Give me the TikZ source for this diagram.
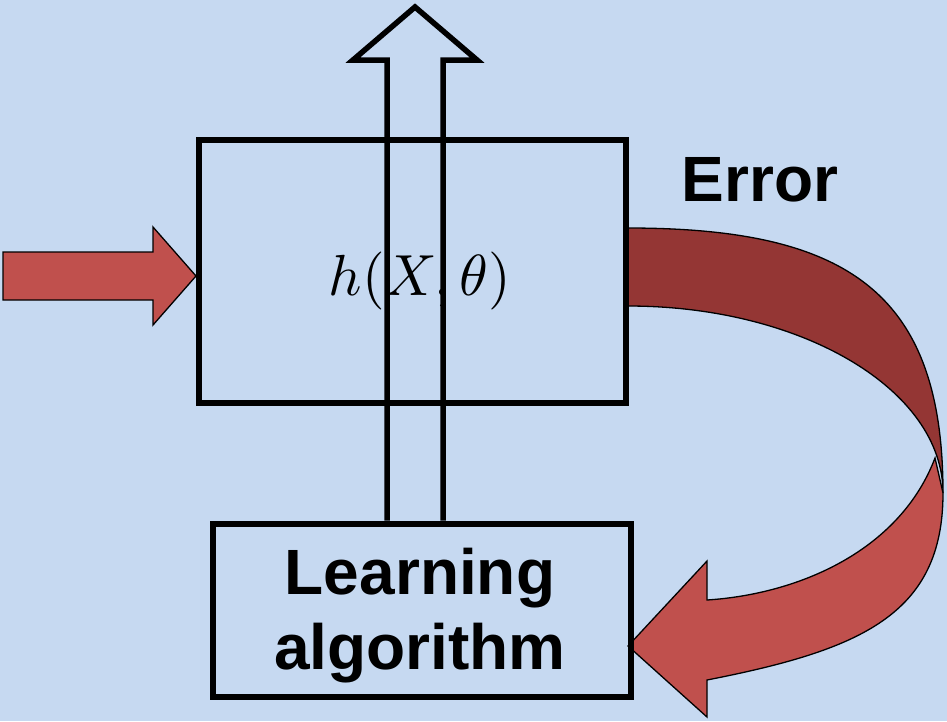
\documentclass[tikz,border=0pt]{standalone}
\usepackage{fontspec}
\newfontfamily\arialfont{Liberation Sans}
\definecolor{bgblue}{HTML}{C6D9F1}
\definecolor{lightred}{HTML}{C0504D}
\definecolor{darkred}{HTML}{943634}
\tikzset{
  blockbox/.style={draw=black, line width=6pt, fill=none, inner sep=0pt},
  bigtext/.style={font=\arialfont\bfseries\fontsize{64}{75}\selectfont, inner sep=0pt, align=center},
  redshape/.style={fill=lightred, draw=black, line width=1.3pt, line join=miter},
  darkshape/.style={fill=darkred, draw=black, line width=1.3pt},
  outarrow/.style={draw=black, line width=5.5pt, line join=miter, miter limit=10}
}
\begin{document}
\begin{tikzpicture}[x=1pt,y=-1pt]
\fill[bgblue] (0,0) rectangle (947,721);
\useasboundingbox (0,0) rectangle (947,721);

% curved error arrow: dark back band
\path[darkshape] (628,228) .. controls (848,228) and (943,293) .. (943,493)
  .. controls (943,389.7) and (802,306) .. (628,306) -- cycle;
% curved error arrow: light front band with head
\path[redshape] (935,458) -- (943,493)
  .. controls (943,615) and (860,650) .. (707,680)
  -- (707,717) -- (628,646) -- (707,561) -- (707,600)
  .. controls (800,594) and (900,550) .. (935,458) -- cycle;

% boxes
\node[blockbox, minimum width=427pt, minimum height=262.5pt] (hbox) at (412.5,271.25) {};
\node[blockbox, minimum width=418pt, minimum height=173.3pt] (learn) at (422,610.35) {};

% input arrow
\path[redshape] (3,252) -- (153,252) -- (153,227) -- (hbox.west |- 0,276) -- (153,325) -- (153,300) -- (3,300) -- cycle;

% texts
\node[inner sep=0pt] (hx) at (420,281) {\scalebox{5.8}{$h(X,\theta)$}};
\node[bigtext, anchor=base] (err) at (760,201.7) {Error};
\node[bigtext] (learntext) at (420,616) {Learning\\algorithm};

% output arrow (outline only)
\coordinate (outtip) at (415,7);
\draw[outarrow] (learn.north -| 387,0) -- (387,60) -- (353,60) -- (outtip) -- (477,60) -- (443,60) -- (learn.north -| 443,0);
\end{tikzpicture}
\end{document}
